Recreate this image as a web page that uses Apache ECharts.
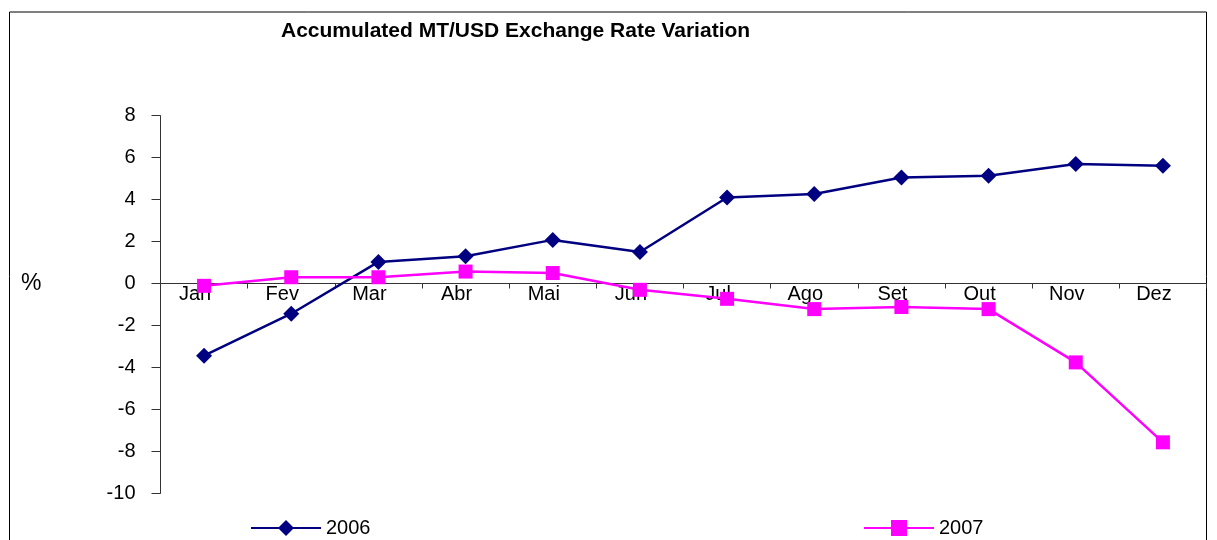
<!DOCTYPE html>
<html>
<head>
<meta charset="utf-8">
<script src="https://cdn.jsdelivr.net/npm/echarts@6/dist/echarts.min.js"></script>
<style>
  html, body { margin: 0; padding: 0; background: #fff; }
  #chart { width: 1217px; height: 540px; }
</style>
</head>
<body>
<div id="chart"></div>
<script>
// months (Portuguese labels as in the source)
const months = ['Jan', 'Fev', 'Mar', 'Abr', 'Mai', 'Jun', 'Jul', 'Ago', 'Set', 'Out', 'Nov', 'Dez'];
// accumulated variation, %
const var2006 = [-3.44, -1.44, 1.03, 1.3, 2.08, 1.5, 4.1, 4.27, 5.05, 5.14, 5.7, 5.62];
const var2007 = [-0.11, 0.3, 0.3, 0.57, 0.5, -0.3, -0.73, -1.22, -1.12, -1.22, -3.76, -7.57];

const font = 'Arial, "Liberation Sans", sans-serif';
const gridTop = 115.7, gridBottom = 46.7, yMin = -10, yMax = 8;
// the x axis sits on the zero line, labels included
const plotH = 540 - gridTop - gridBottom;
const zeroOffset = -plotH * (0 - yMin) / (yMax - yMin);

let myChart = echarts.init(document.getElementById('chart'));

let option = {
    backgroundColor: '#fff',
    animation: false,
    title: {
        text: 'Accumulated MT/USD Exchange Rate Variation',
        left: 276,
        top: 16,
        textStyle: { fontFamily: font, fontSize: 21, fontWeight: 'bold', color: '#000' }
    },
    // frame round the chart area
    graphic: [
        {
            type: 'rect',
            shape: { x: 9.5, y: 12, width: 1197, height: 560 },
            style: { fill: 'none', stroke: '#000', lineWidth: 1 }
        },
        {
            type: 'text',
            left: 21,
            top: 272,
            style: { text: '%', fontFamily: font, fontSize: 23, fill: '#000' }
        }
    ],
    legend: [
        {
            data: ['2006'],
            left: 245,
            top: 513,
            itemWidth: 70,
            itemHeight: 20,
            itemGap: 0,
            textStyle: { fontFamily: font, fontSize: 20, color: '#000' }
        },
        {
            data: ['2007'],
            left: 858,
            top: 513,
            itemWidth: 70,
            itemHeight: 20,
            itemGap: 0,
            textStyle: { fontFamily: font, fontSize: 20, color: '#000' }
        }
    ],
    grid: {
        left: 160.5,
        right: 10.5,
        top: gridTop,
        bottom: gridBottom,
        containLabel: false
    },
    xAxis: {
        type: 'category',
        data: months,
        boundaryGap: true,
        offset: zeroOffset,
        axisLine: { onZero: false, lineStyle: { color: '#333', width: 1 } },
        axisTick: { show: true, length: 5, lineStyle: { color: '#333' } },
        axisLabel: {
            margin: 1,
            padding: [0, 18, 0, 0],
            fontFamily: font,
            fontSize: 20,
            color: '#000'
        },
        splitLine: { show: false }
    },
    yAxis: {
        type: 'value',
        min: yMin,
        max: yMax,
        interval: 2,
        axisLine: { show: true, lineStyle: { color: '#333', width: 1 } },
        axisTick: { show: true, length: 9, lineStyle: { color: '#333' } },
        axisLabel: {
            margin: 25,
            fontFamily: font,
            fontSize: 20,
            color: '#000'
        },
        splitLine: { show: false }
    },
    series: [
        {
            name: '2006',
            type: 'line',
            data: var2006,
            symbol: 'diamond',
            symbolSize: 16,
            itemStyle: { color: '#000080' },
            lineStyle: { color: '#000080', width: 2.5 }
        },
        {
            name: '2007',
            type: 'line',
            data: var2007,
            symbol: 'rect',
            symbolSize: 14,
            itemStyle: { color: '#ff00ff' },
            lineStyle: { color: '#ff00ff', width: 2.5 }
        }
    ]
};

myChart.setOption(option);
</script>
</body>
</html>
